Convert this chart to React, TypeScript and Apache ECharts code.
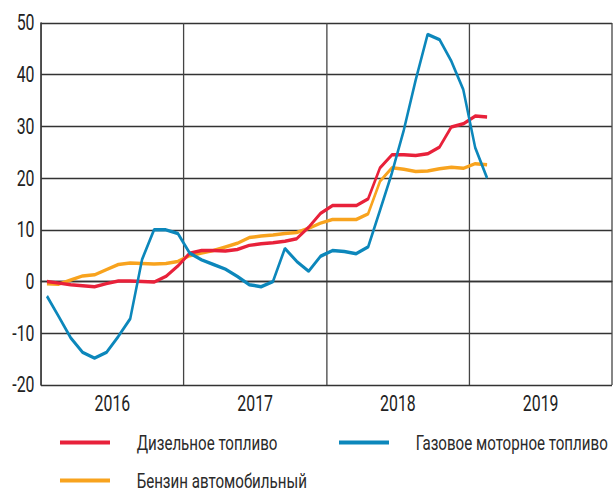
import React, { useEffect, useRef } from "react";
import * as echarts from "echarts";

const years = ["2016", "2017", "2018", "2019"];
const seriesNames = ["Дизельное топливо", "Газовое моторное топливо", "Бензин автомобильный"];
const diesel = [0, -0.3, -0.6, -0.8, -1.0, -0.4, 0.1, 0.1, 0, -0.1, 1.0, 3.0, 5.5, 6.0, 6.0, 5.9, 6.2, 7.0, 7.3, 7.5, 7.8, 8.3, 10.5, 13.2, 14.7, 14.7, 14.7, 16.0, 22.0, 24.5, 24.5, 24.4, 24.7, 26.0, 29.9, 30.5, 32.0, 31.8];
const gas = [-2.8, -6.8, -10.9, -13.7, -14.8, -13.7, -10.6, -7.2, 4.3, 10, 10, 9.3, 5.5, 4.2, 3.3, 2.4, 1.0, -0.6, -1.0, 0, 6.4, 3.9, 2.0, 4.9, 6.0, 5.8, 5.4, 6.7, 13.8, 21.0, 29.3, 39.0, 47.8, 46.8, 42.6, 37.1, 25.9, 20.0];
const petrol = [-0.4, -0.5, 0.3, 1.1, 1.3, 2.3, 3.3, 3.6, 3.5, 3.4, 3.5, 3.9, 5.0, 5.5, 6.0, 6.7, 7.4, 8.5, 8.8, 9.0, 9.3, 9.5, 10.3, 11.3, 12.0, 12.0, 12.0, 13.1, 19.4, 22.0, 21.7, 21.3, 21.4, 21.8, 22.1, 21.9, 22.8, 22.6];

const FONT = "Roboto, 'Liberation Sans', sans-serif";
const RED = "#e8213a";
const BLUE = "#0c87bb";
const ORANGE = "#f8a31e";

// horizontal condensing factor (the reference uses a condensed typeface)
const K = 0.72;
const W = 614;
const H = 492;

const toPts = (arr: number[]) => arr.map((v, i) => [i + 0.5, v]);

export default function App() {
  const ref = useRef<HTMLDivElement>(null);
  useEffect(() => {
    if (!ref.current) return;
    const chart = echarts.init(ref.current, null, { renderer: "svg" });
    const legendBase = {
      icon: "rect",
      itemWidth: 50 / K,
      itemHeight: 4,
      padding: 0,
      textStyle: { fontFamily: FONT, fontSize: 21, lineHeight: 20, color: "#2a2a2a", padding: [0, 0, 0, 32] },
      selectedMode: false,
    };
    chart.setOption({
      animation: false,
      grid: { left: 41 / K, right: 0, top: 23, bottom: 107, containLabel: false },
      legend: [
        { ...legendBase, data: [seriesNames[0]], left: 60 / K, top: 432 },
        { ...legendBase, data: [seriesNames[1]], left: 339 / K, top: 432 },
        { ...legendBase, data: [seriesNames[2]], left: 60 / K, top: 470 },
      ],
      xAxis: [
        {
          type: "value",
          min: 0,
          max: 48,
          interval: 12,
          axisLine: { show: true, lineStyle: { color: "#333", width: 1.3 } },
          axisTick: { show: false },
          axisLabel: { show: false },
          splitLine: { show: true, lineStyle: { color: "#444", width: 1.8 } },
        },
        {
          type: "value",
          position: "bottom",
          min: 0,
          max: 48,
          interval: 6,
          axisLine: { show: false },
          axisTick: { show: false },
          splitLine: { show: false },
          axisLabel: {
            margin: 8,
            fontFamily: FONT,
            fontSize: 22,
            color: "#222",
            formatter: (v: number) => (v % 12 === 6 ? years[Math.floor(v / 12)] : ""),
          },
        },
      ],
      yAxis: {
        type: "value",
        min: -20,
        max: 50,
        interval: 10,
        axisLine: { show: true, lineStyle: { color: "#333", width: 1.8 } },
        axisTick: { show: false },
        axisLabel: { margin: 9, fontFamily: FONT, fontSize: 22, color: "#222" },
        splitLine: { show: true, lineStyle: { color: "#333", width: 1.3 } },
      },
      series: [
        {
          name: seriesNames[0],
          type: "line",
          xAxisIndex: 0,
          data: toPts(diesel),
          showSymbol: false,
          lineStyle: { color: RED, width: 3.5 },
          itemStyle: { color: RED },
          z: 3,
        },
        {
          name: seriesNames[1],
          type: "line",
          xAxisIndex: 0,
          data: toPts(gas),
          showSymbol: false,
          lineStyle: { color: BLUE, width: 3.5 },
          itemStyle: { color: BLUE },
          z: 4,
        },
        {
          name: seriesNames[2],
          type: "line",
          xAxisIndex: 0,
          data: toPts(petrol),
          showSymbol: false,
          lineStyle: { color: ORANGE, width: 3.5 },
          itemStyle: { color: ORANGE },
          z: 2,
        },
      ],
    });
    return () => chart.dispose();
  }, []);
  return (
    <div style={{ position: "absolute", left: 0, top: 0, width: W, height: H, overflow: "hidden", background: "#fff" }}>
      <div
        ref={ref}
        style={{ width: W / K, height: H, transform: `scaleX(${K})`, transformOrigin: "left top" }}
      />
    </div>
  );
}
